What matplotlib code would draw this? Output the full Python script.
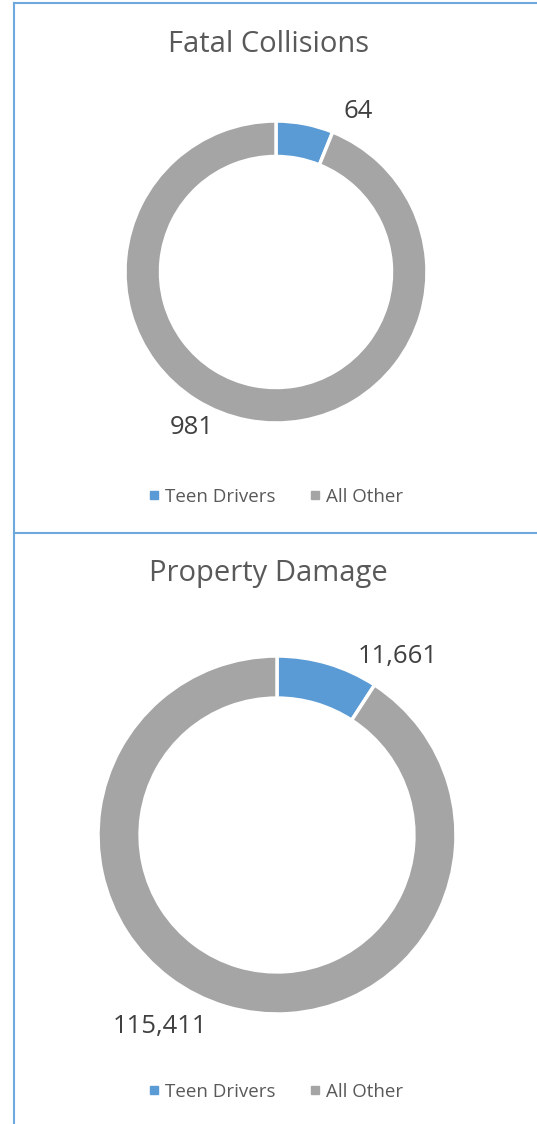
import numpy as np
import matplotlib.pyplot as plt
from matplotlib.lines import Line2D

plt.rcParams['font.family'] = ['Open Sans', 'DejaVu Sans']

categories = ['Teen Drivers', 'All Other']
fatal_values = [64, 981]
damage_values = [11661, 115411]
titles = ['Fatal Collisions', 'Property Damage']

colors = ['#5B9BD5', '#A5A5A5']
W, H = 537, 1124
fig = plt.figure(figsize=(W / 100, H / 100), dpi=100)


def px_axes(cx, cy, r):
    return fig.add_axes([(cx - r) / W, (H - cy - r) / H, 2 * r / W, 2 * r / H])


def donut(ax, values, label_pos):
    wedges, _ = ax.pie(values, colors=colors, startangle=90, counterclock=False,
                       radius=1.0, wedgeprops=dict(width=0.235, edgecolor='white', linewidth=2.5))
    ax.set_xlim(-1, 1)
    ax.set_ylim(-1, 1)
    ax.set_aspect('equal')
    ax.axis('off')
    for v, (x, y) in zip(values, label_pos):
        fig.text(x / W, 1 - y / H, f'{v:,}', ha='center', va='center',
                 fontsize=18.5, color='#404040')
    return wedges


ax1 = px_axes(276, 272, 151)
donut(ax1, fatal_values, [(358, 112), (192, 427)])
ax2 = px_axes(277, 835, 179)
donut(ax2, damage_values, [(398, 656), (160, 1026)])

for title, y in zip(titles, [44, 574]):
    fig.text(0.5, 1 - y / H, title, ha='center', va='center', fontsize=21, color='#595959')

handles = [Line2D([], [], marker='s', linestyle='none', markersize=6,
                  markerfacecolor=c, markeredgecolor=c) for c in colors]
for y in [497, 1092]:
    fig.legend(handles, categories, loc='center', bbox_to_anchor=(0.51, 1 - y / H),
               ncol=2, frameon=False, fontsize=13.5, labelcolor='#595959',
               handletextpad=0.1, columnspacing=1.6, handlelength=1.0)

# chart borders
border = '#6FA8DC'
fig.add_artist(Line2D([14 / W, 14 / W], [0, 1 - 3 / H], color=border, lw=1.5))
fig.add_artist(Line2D([14 / W, 1], [1 - 3 / H, 1 - 3 / H], color=border, lw=1.5))
fig.add_artist(Line2D([14 / W, 1], [1 - 533 / H, 1 - 533 / H], color=border, lw=1.5))

fig.savefig('out.png', dpi=100, facecolor='white')
